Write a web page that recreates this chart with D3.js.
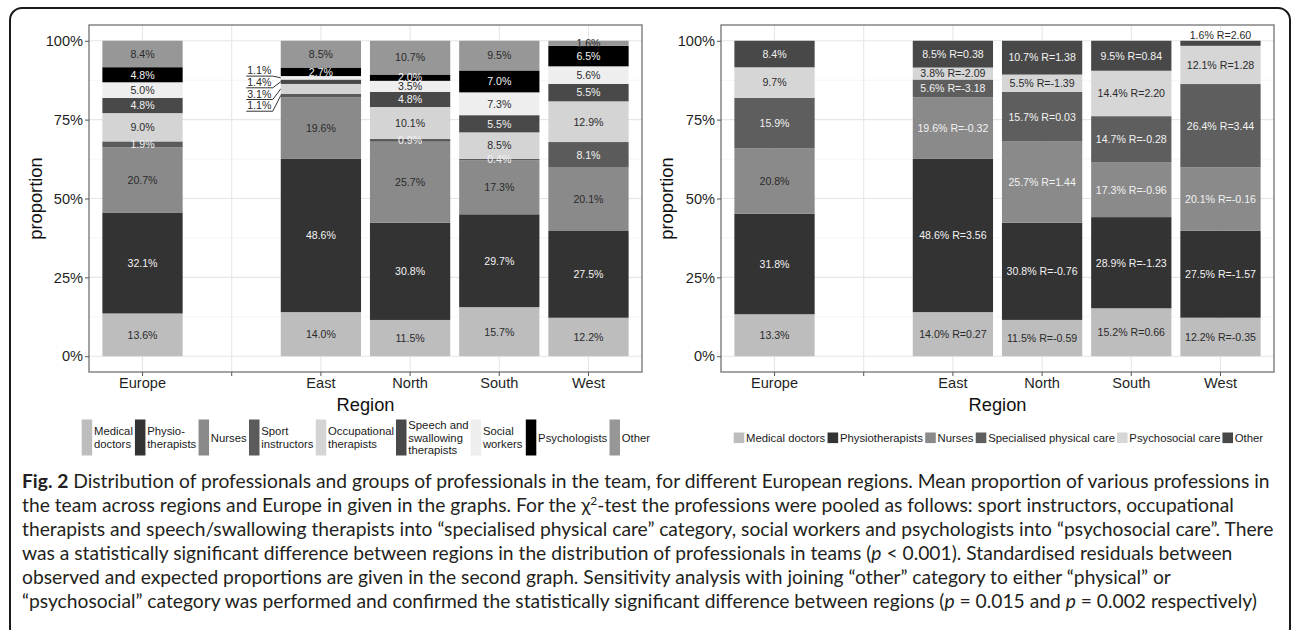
<!DOCTYPE html>
<html>
<head>
<meta charset="utf-8">
<script src="https://cdn.jsdelivr.net/npm/d3@7"></script>
<style>
body { margin: 0; background: #fff; }
svg { display: block; }
text { font-family: "Liberation Sans", Arial, Helvetica, sans-serif; }
</style>
</head>
<body>
<svg id="fig" width="1292" height="630"></svg>
<script>
// x positions, the blank one is the gap between Europe and the regions
const regions = ["Europe", " ", "East", "North", "South", "West"];

// ---- left graph: all professions, percent, bottom to top ----
const professions = ["Medical doctors", "Physiotherapists", "Nurses", "Sport instructors",
    "Occupational therapists", "Speech and swallowing therapists", "Social workers", "Psychologists", "Other"];
const professionLegend = ["Medical\ndoctors", "Physio-\ntherapists", "Nurses", "Sport\ninstructors",
    "Occupational\ntherapists", "Speech and\nswallowing\ntherapists", "Social\nworkers", "Psychologists", "Other"];
const professionFill = ["#bdbdbd", "#333333", "#8a8a8a", "#5b5b5b", "#d4d4d4", "#494949", "#eeeeee", "#000000", "#979797"];
const professionInk = ["#2b2b2b", "#f2f2f2", "#2b2b2b", "#f2f2f2", "#2b2b2b", "#f2f2f2", "#2b2b2b", "#f2f2f2", "#2b2b2b"];

const profEurope = [13.6, 32.1, 20.7, 1.9, 9.0, 4.8, 5.0, 4.8, 8.4];
const profEast   = [14.0, 48.6, 19.6, 1.1, 3.1, 1.4, 1.1, 2.7, 8.5];
const profNorth  = [11.5, 30.8, 25.7, 0.9, 10.1, 4.8, 3.5, 2.0, 10.7];
const profSouth  = [15.7, 29.7, 17.3, 0.4, 8.5, 5.5, 7.3, 7.0, 9.5];
const profWest   = [12.2, 27.5, 20.1, 8.1, 12.9, 5.5, 5.6, 6.5, 1.6];

// East slices too thin for a label inside: labelled on the left, top to bottom
const eastCallouts = ["Social workers", "Speech and swallowing therapists", "Occupational therapists", "Sport instructors"];

// ---- right graph: pooled groups, percent and standardised residuals ----
const groups = ["Medical doctors", "Physiotherapists", "Nurses", "Specialised physical care", "Psychosocial care", "Other"];
const groupFill = ["#bdbdbd", "#333333", "#8a8a8a", "#5e5e5e", "#d6d6d6", "#484848"];
const groupInkEurope = ["#2b2b2b", "#f2f2f2", "#2b2b2b", "#f2f2f2", "#2b2b2b", "#f2f2f2"];
const groupInk = ["#2b2b2b", "#f2f2f2", "#f2f2f2", "#f2f2f2", "#2b2b2b", "#f2f2f2"];

const grpEurope = [13.3, 31.8, 20.8, 15.9, 9.7, 8.4];
const grpEast   = [14.0, 48.6, 19.6, 5.6, 3.8, 8.5];
const grpNorth  = [11.5, 30.8, 25.7, 15.7, 5.5, 10.7];
const grpSouth  = [15.2, 28.9, 17.3, 14.7, 14.4, 9.5];
const grpWest   = [12.2, 27.5, 20.1, 26.4, 12.1, 1.6];
const resEast   = [0.27, 3.56, -0.32, -3.18, -2.09, 0.38];
const resNorth  = [-0.59, -0.76, 1.44, 0.03, -1.39, 1.38];
const resSouth  = [0.66, -1.23, -0.96, -0.28, 2.20, 0.84];
const resWest   = [-0.35, -1.57, -0.16, 3.44, 1.28, 2.60];

const yBreaks = [0, 0.25, 0.5, 0.75, 1];
const yMinor = [0.125, 0.375, 0.625, 0.875];

const panelTop = 25, panelBottom = 372, panelW = 553;
const svg = d3.select("#fig");

function drawPanel(opt) {
    const g = svg.append("g");
    const left = opt.left, right = opt.left + panelW;
    const x = d3.scaleBand().domain(regions).range([left, right]).paddingInner(0.1).paddingOuter(0.15);
    const y = d3.scaleLinear().domain([-0.05, 1.05]).range([panelBottom, panelTop]);

    g.append("rect").attr("x", left).attr("y", panelTop).attr("width", panelW)
        .attr("height", panelBottom - panelTop).attr("fill", "#fff");

    // grid lines
    g.append("g").selectAll("line").data(yMinor).join("line")
        .attr("x1", left).attr("x2", right).attr("y1", d => y(d)).attr("y2", d => y(d))
        .attr("stroke", "#f1f1f1").attr("stroke-width", 0.8);
    g.append("g").selectAll("line").data(yBreaks).join("line")
        .attr("x1", left).attr("x2", right).attr("y1", d => y(d)).attr("y2", d => y(d))
        .attr("stroke", "#e6e6e6").attr("stroke-width", 1.1);
    g.append("g").selectAll("line").data(regions).join("line")
        .attr("x1", d => x(d) + x.bandwidth() / 2).attr("x2", d => x(d) + x.bandwidth() / 2)
        .attr("y1", panelTop).attr("y2", panelBottom)
        .attr("stroke", "#e6e6e6").attr("stroke-width", 1.1);

    // stacked bars, position = fill
    const table = opt.rows.map(r => {
        const o = { region: r.region };
        opt.keys.forEach((k, i) => o[k] = r.values[i]);
        return o;
    });
    const series = d3.stack().keys(opt.keys).offset(d3.stackOffsetExpand)(table);

    series.forEach((s, si) => {
        g.append("g").attr("fill", opt.fill[si]).selectAll("rect").data(s).join("rect")
            .attr("x", d => x(d.data.region)).attr("width", x.bandwidth())
            .attr("y", d => y(d[1])).attr("height", d => y(d[0]) - y(d[1]));
    });

    // slice labels
    series.forEach((s, si) => {
        s.forEach((d, ri) => {
            const region = d.data.region;
            if (opt.callouts && region == opt.callouts.region && opt.callouts.keys.includes(s.key))
                return;
            const row = opt.rows[ri];
            let label = row.values[si].toFixed(1) + "%";
            if (row.res) label += " R=" + row.res[si].toFixed(2);
            let ly = y((d[0] + d[1]) / 2);
            let ink = opt.ink(region, si);
            // very thin top slice: put the label above the bar
            if (opt.liftThinTop && si == opt.keys.length - 1 && d[1] - d[0] < 0.025) {
                ly = y(1) - 6;
                ink = "#2b2b2b";
            }
            g.append("text")
                .attr("x", x(region) + x.bandwidth() / 2).attr("y", ly).attr("dy", "0.36em")
                .attr("text-anchor", "middle").attr("font-size", 10.6).attr("fill", ink)
                .text(label);
        });
    });

    // labels with leader lines for the thin East slices
    if (opt.callouts) {
        const region = opt.callouts.region;
        const ri = opt.rows.findIndex(r => r.region == region);
        const barLeft = x(region);
        const cx = barLeft - 21.5;
        opt.callouts.keys.forEach((k, i) => {
            const si = opt.keys.indexOf(k);
            const d = series[si][ri];
            const uy = y(0.888) + i * 11.7;
            g.append("text").attr("x", cx).attr("y", uy - 1.8).attr("text-anchor", "middle")
                .attr("font-size", 10.6).attr("fill", "#2b2b2b")
                .text(opt.rows[ri].values[si].toFixed(1) + "%");
            g.append("polyline")
                .attr("points", [[cx - 13, uy], [cx + 13.5, uy], [barLeft, y((d[0] + d[1]) / 2)]].map(p => p.join(",")).join(" "))
                .attr("fill", "none").attr("stroke", "#333").attr("stroke-width", 1);
        });
    }

    // panel border
    g.append("rect").attr("x", left).attr("y", panelTop).attr("width", panelW)
        .attr("height", panelBottom - panelTop).attr("fill", "none")
        .attr("stroke", "#7d7d7d").attr("stroke-width", 1.4);

    // axes
    const ax = g.append("g").attr("transform", "translate(0," + panelBottom + ")")
        .call(d3.axisBottom(x).tickSize(4).tickPadding(2).tickFormat(d => d.trim()));
    const ay = g.append("g").attr("transform", "translate(" + left + ",0)")
        .call(d3.axisLeft(y).tickValues(yBreaks).tickSize(4).tickPadding(2).tickFormat(d3.format(".0%")));
    [ax, ay].forEach(a => {
        a.select(".domain").remove();
        a.selectAll(".tick line").attr("stroke", "#555");
        a.selectAll(".tick text").attr("font-size", 14.6).attr("fill", "#1f1f1f")
            .attr("font-family", "'Liberation Sans', Arial, sans-serif");
    });

    g.append("text").attr("x", left + panelW / 2).attr("y", 410.5).attr("text-anchor", "middle")
        .attr("font-size", 18.3).attr("fill", "#111").text("Region");
    g.append("text").attr("transform", "translate(" + opt.yTitleX + "," + (panelTop + panelBottom) / 2 + ") rotate(-90)")
        .attr("text-anchor", "middle").attr("font-size", 18.3).attr("fill", "#111").text("proportion");
}

function drawLegend(items, fill, cx, cy, keyW, keyH, lineH) {
    const g = svg.append("g");
    const fs = 11.3;
    let pos = 0;
    const placed = [];
    items.forEach((label, i) => {
        const lines = label.split("\n");
        const t = g.append("text").attr("font-size", fs).attr("fill", "#1a1a1a");
        lines.forEach((ln, li) => {
            t.append("tspan").attr("x", 0)
                .attr("y", cy + (li - (lines.length - 1) / 2) * lineH).attr("dy", "0.36em").text(ln);
        });
        const w = t.node().getBBox().width;
        placed.push({ t: t, keyX: pos, textX: pos + keyW + 1.8 });
        pos += keyW + 1.8 + w + 2;
    });
    const x0 = cx - pos / 2;
    placed.forEach((p, i) => {
        g.append("rect").attr("x", x0 + p.keyX).attr("y", cy - keyH / 2)
            .attr("width", keyW).attr("height", keyH).attr("fill", fill[i]);
        p.t.attr("transform", "translate(" + (x0 + p.textX) + ",0)");
    });
}

drawPanel({
    left: 89, yTitleX: 42,
    keys: professions, fill: professionFill,
    rows: [
        { region: "Europe", values: profEurope },
        { region: "East", values: profEast },
        { region: "North", values: profNorth },
        { region: "South", values: profSouth },
        { region: "West", values: profWest }
    ],
    ink: (region, si) => professionInk[si],
    callouts: { region: "East", keys: eastCallouts }
});
drawLegend(professionLegend, professionFill, 89 + panelW / 2 + 1.5, 437.5, 10.5, 36, 12.8);

drawPanel({
    left: 721, yTitleX: 673,
    keys: groups, fill: groupFill,
    rows: [
        { region: "Europe", values: grpEurope },
        { region: "East", values: grpEast, res: resEast },
        { region: "North", values: grpNorth, res: resNorth },
        { region: "South", values: grpSouth, res: resSouth },
        { region: "West", values: grpWest, res: resWest }
    ],
    ink: (region, si) => region == "Europe" ? groupInkEurope[si] : groupInk[si],
    liftThinTop: true
});
drawLegend(groups, groupFill, 721 + panelW / 2 + 2, 437.8, 10.6, 10.6, 12.8);

// ---- caption ----
const captionLines = [
    [["Fig. 2", "b"], [" Distribution of professionals and groups of professionals in the team, for different European regions. Mean proportion of various professions in"]],
    [["the team across regions and Europe in given in the graphs. For the \u03c7"], ["2", "sup"], ["-test the professions were pooled as follows: sport instructors, occupational"]],
    [["therapists and speech/swallowing therapists into \u201cspecialised physical care\u201d category, social workers and psychologists into \u201cpsychosocial care\u201d. There"]],
    [["was a statistically significant difference between regions in the distribution of professionals in teams ("], ["p", "i"], [" < 0.001). Standardised residuals between"]],
    [["observed and expected proportions are given in the second graph. Sensitivity analysis with joining \u201cother\u201d category to either \u201cphysical\u201d or"]],
    [["\u201cpsychosocial\u201d category was performed and confirmed the statistically significant difference between regions ("], ["p", "i"], [" = 0.015 and "], ["p", "i"], [" = 0.002 respectively)"]]
];
const cap = svg.append("g").attr("font-family", "Lato, 'Open Sans', sans-serif").attr("fill", "#231f20");

function captionLine(line, i, fs) {
    const t = cap.append("text").attr("x", 22).attr("y", 488 + i * 24).attr("font-size", fs)
        .style("font-family", "Lato, 'Open Sans', sans-serif");
    let raised = false;
    line.forEach(seg => {
        const ts = t.append("tspan").text(seg[0]);
        if (seg[1] == "b") ts.attr("font-weight", "bold");
        if (seg[1] == "i") ts.attr("font-style", "italic");
        if (seg[1] == "sup") {
            ts.attr("font-size", fs * 0.62).attr("dy", -fs * 0.38);
            raised = true;
        } else if (raised) {
            ts.attr("dy", fs * 0.38);
            raised = false;
        }
    });
    return t;
}

// fit the font so the first line fills the text block
let probe = captionLine(captionLines[0], 0, 17);
const capFs = 17 * 1248 / probe.node().getComputedTextLength();
probe.remove();
console.log("caption font " + capFs);
captionLines.forEach((line, i) => captionLine(line, i, capFs));

// outer frame
svg.append("rect").attr("x", 10).attr("y", 8).attr("width", 1280).attr("height", 632).attr("rx", 12)
    .attr("fill", "none").attr("stroke", "#1a1a1a").attr("stroke-width", 2);
</script>
</body>
</html>
